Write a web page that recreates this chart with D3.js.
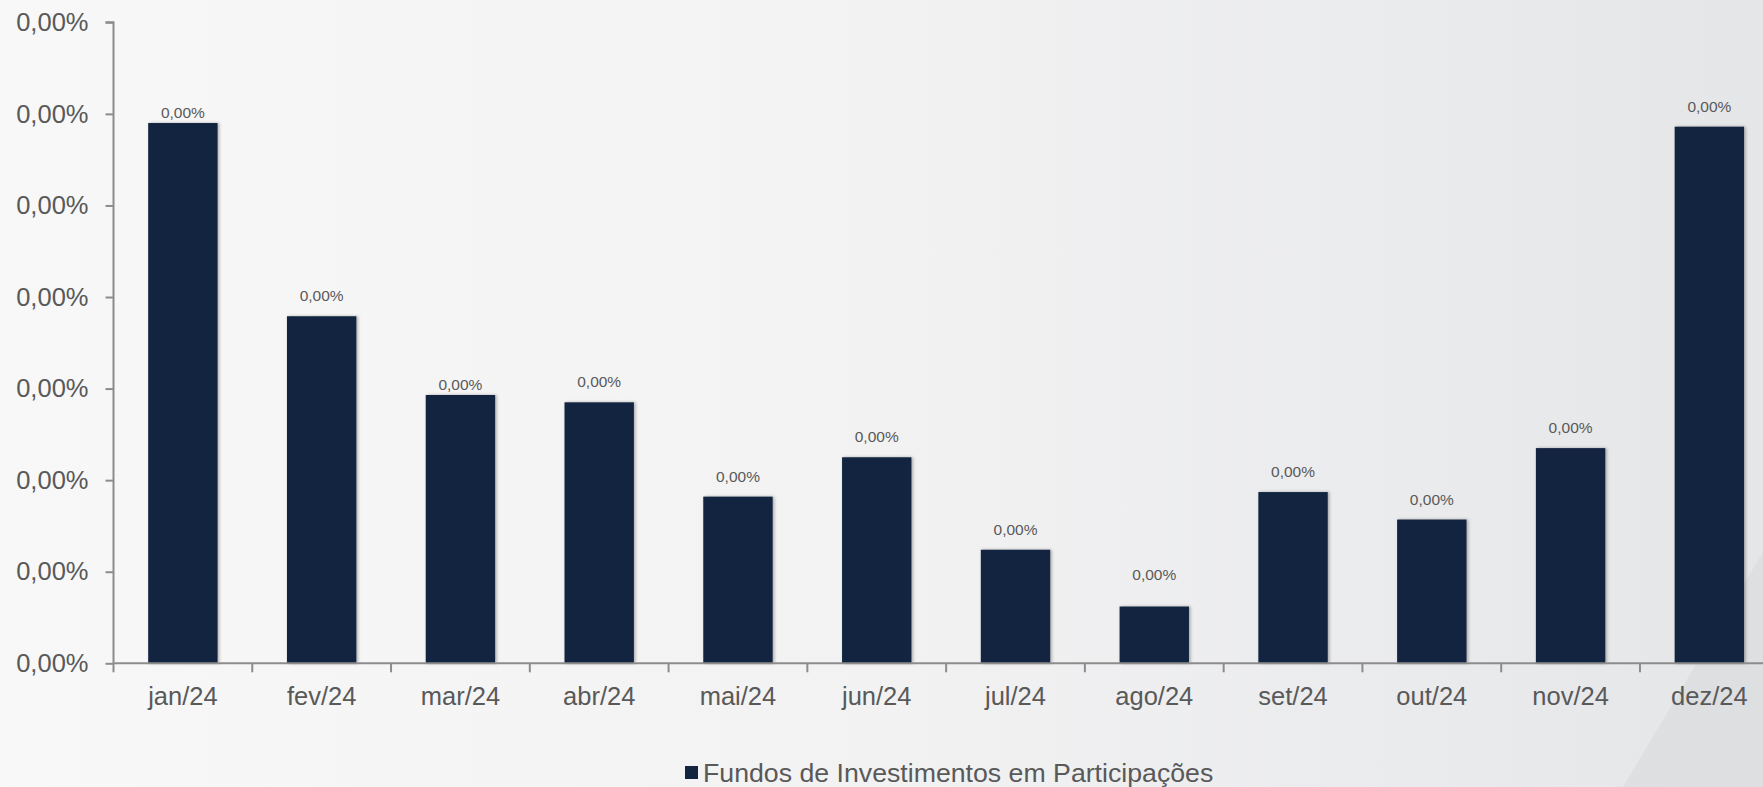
<!DOCTYPE html>
<html>
<head>
<meta charset="utf-8">
<script src="https://cdn.jsdelivr.net/npm/d3@7"></script>
<style>
  html, body { margin: 0; padding: 0; overflow: hidden; }
  body { width: 1763px; height: 787px; }
  svg { display: block; font-family: "Liberation Sans", Arial, sans-serif; }
</style>
</head>
<body>
<svg id="chart" width="1763" height="787"></svg>
<script>
// ---- data ----
const categories = ["jan/24","fev/24","mar/24","abr/24","mai/24","jun/24","jul/24","ago/24","set/24","out/24","nov/24","dez/24"];
// values as fractions (very small, all display as 0,00%)
const values = [5.90e-6, 3.79e-6, 2.93e-6, 2.85e-6, 1.82e-6, 2.25e-6, 1.24e-6, 0.62e-6, 1.87e-6, 1.57e-6, 2.35e-6, 5.86e-6];
const yTicks = [0, 1e-6, 2e-6, 3e-6, 4e-6, 5e-6, 6e-6, 7e-6];
const seriesName = "Fundos de Investimentos em Participações";

// ---- layout ----
const W = 1763, H = 787;
const x0 = 113.5, bandW = 138.77;
const yTop = 22.3, yBase = 663.3;
const barColor = "#12243f";
const textColor = "#595959";
const axisColor = "#8c8c8c";

const locale = d3.formatLocale({decimal: ",", thousands: ".", grouping: [3], currency: ["R$", ""]});
const fmt = locale.format(".2%");

const svg = d3.select("#chart");
const defs = svg.append("defs");

const bg = defs.append("linearGradient").attr("id", "bg").attr("x1", "0").attr("x2", "1").attr("y1", "0").attr("y2", "0");
bg.append("stop").attr("offset", "0").attr("stop-color", "#f8f8f8");
bg.append("stop").attr("offset", "0.5").attr("stop-color", "#f2f2f3");
bg.append("stop").attr("offset", "1").attr("stop-color", "#e5e6e8");

const sh = defs.append("filter").attr("id", "shadow").attr("x", "-10%").attr("y", "-5%").attr("width", "130%").attr("height", "115%")
  .attr("color-interpolation-filters", "sRGB");
sh.append("feDropShadow").attr("dx", 1.5).attr("dy", 0).attr("stdDeviation", 1.5).attr("flood-color", "#000").attr("flood-opacity", 0.3);

svg.append("rect").attr("width", W).attr("height", H).attr("fill", "url(#bg)");
svg.append("path").attr("d", `M1623,${H} L${W},552 L${W},${H} Z`).attr("fill", "#dcdddf").attr("opacity", 0.8);

const x = d3.scaleBand().domain(categories).range([x0, x0 + bandW * categories.length]).paddingInner(0.5).paddingOuter(0.25);
const y = d3.scaleLinear().domain([0, d3.max(yTicks)]).range([yBase, yTop]);

// y axis
const yAxis = d3.axisLeft(y).tickValues(yTicks).tickFormat(fmt).tickSize(8).tickPadding(17);
const gy = svg.append("g").attr("transform", `translate(${x0},0)`).call(yAxis);
gy.select(".domain").attr("stroke", axisColor).attr("stroke-width", 2).attr("d", `M-8,${yTop}H0V${yBase}`);
gy.selectAll(".tick line").attr("stroke", axisColor).attr("stroke-width", 2);
gy.selectAll(".tick text").attr("fill", textColor).attr("font-size", "25.5px").attr("font-family", "Liberation Sans, Arial, sans-serif");

// bars
svg.append("g").selectAll("rect").data(values).join("rect")
  .attr("x", (d, i) => x(categories[i]))
  .attr("y", d => y(d))
  .attr("width", x.bandwidth())
  .attr("height", d => yBase - y(d))
  .attr("fill", barColor)
  .attr("filter", "url(#shadow)");

// x axis
const xAxis = d3.axisBottom(x).tickSize(0).tickPadding(24);
const gx = svg.append("g").attr("transform", `translate(0,${yBase})`).call(xAxis);
gx.select(".domain").attr("stroke", axisColor).attr("stroke-width", 2).attr("d", `M${x0},0H${W + 20}`);
gx.selectAll(".tick text").attr("fill", textColor).attr("font-size", "25.5px").attr("font-family", "Liberation Sans, Arial, sans-serif").attr("dy", "0.71em");
// separators between categories
gx.append("g").selectAll("line").data(d3.range(categories.length + 1)).join("line")
  .attr("x1", i => x0 + i * bandW).attr("x2", i => x0 + i * bandW)
  .attr("y1", 0).attr("y2", 9)
  .attr("stroke", axisColor).attr("stroke-width", 2);

// data labels (offset above bar top; a few sit closer/further as in the source)
const labelGap = c => (c === "jan/24" || c === "mar/24") ? 5 : (c === "ago/24" ? 27 : 15);
svg.append("g").selectAll("text").data(values).join("text")
  .attr("x", (d, i) => x(categories[i]) + x.bandwidth() / 2)
  .attr("y", (d, i) => y(d) - labelGap(categories[i]))
  .attr("text-anchor", "middle")
  .attr("fill", textColor)
  .attr("font-size", "15.5px")
  .text(d => fmt(d));

// legend
const lg = svg.append("g").attr("transform", "translate(685,766)");
lg.append("rect").attr("width", 13).attr("height", 13).attr("fill", barColor);
lg.append("text").attr("x", 18).attr("y", 6.5).attr("dy", "0.35em").attr("fill", textColor).attr("font-size", "26.7px").text(seriesName);
</script>
</body>
</html>
